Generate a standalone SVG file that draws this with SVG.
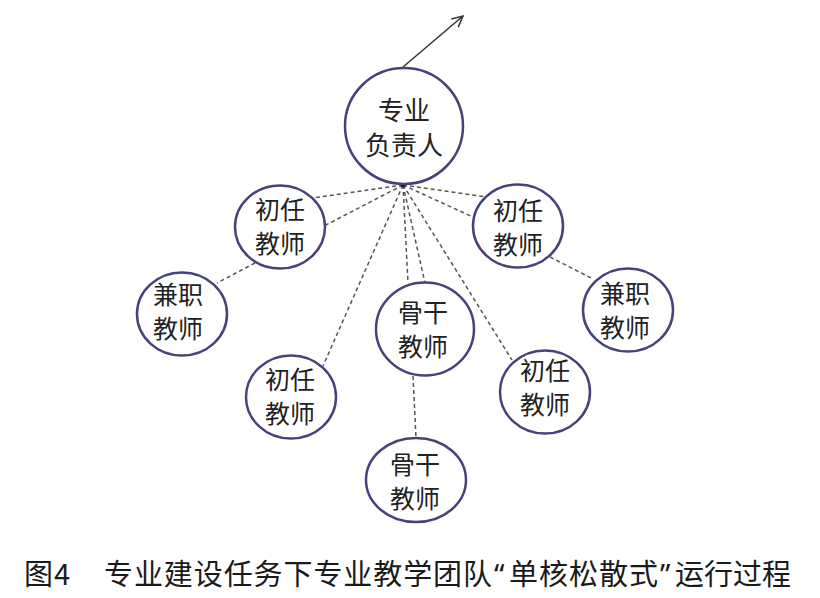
<svg xmlns="http://www.w3.org/2000/svg" width="820" height="598" viewBox="0 0 820 598">
<style>
.node ellipse{fill:#fff;stroke:#46427a;stroke-width:2.5}
.node text{font-family:"Noto Sans CJK SC","Noto Sans",sans-serif;font-size:25px;fill:#222;text-anchor:middle;dominant-baseline:central}
.dash{stroke:#555;stroke-width:1.5;stroke-dasharray:4 3;fill:none}
.caption{font-family:"Noto Sans CJK SC","Noto Sans",sans-serif;font-size:29px;font-weight:400;fill:#1a1a1a}
.q{font-family:"Noto Sans","Liberation Sans",sans-serif}
</style>
<defs>
<marker id="arr" viewBox="0 0 12 12" refX="11" refY="6" markerWidth="13" markerHeight="13" markerUnits="userSpaceOnUse" orient="auto">
<path d="M1,1 L11,6 L1,11" fill="none" stroke="#333" stroke-width="1.4"/>
</marker>
</defs>
<rect width="820" height="598" fill="#fff"/>
<g id="connectors">
<line x1="403" y1="67" x2="463" y2="16" stroke="#333" stroke-width="1.5" marker-end="url(#arr)"/>
<line class="dash" x1="403" y1="185" x2="313" y2="198"/>
<line class="dash" x1="403" y1="185" x2="324" y2="226"/>
<line class="dash" x1="403" y1="185" x2="487" y2="197"/>
<line class="dash" x1="403" y1="185" x2="475" y2="218"/>
<line class="dash" x1="403" y1="185" x2="323" y2="366"/>
<line class="dash" x1="403" y1="185" x2="408" y2="283"/>
<line class="dash" x1="403" y1="185" x2="425" y2="283"/>
<line class="dash" x1="403" y1="185" x2="512" y2="360"/>
<line class="dash" x1="255" y1="263" x2="217" y2="283"/>
<line class="dash" x1="550" y1="257" x2="593" y2="279"/>
<line class="dash" x1="413" y1="376" x2="416" y2="438"/>
<circle cx="403" cy="185" r="2.2" fill="#111"/>
</g>
<g id="leader" class="node"><ellipse cx="404" cy="126" rx="59" ry="58"/><text x="404" y="108" style="font-size:26px">专业</text><text x="404" y="143" style="font-size:26px">负责人</text></g>
<g id="new1" class="node"><ellipse cx="280" cy="227" rx="45" ry="41.5"/><text x="280" y="208">初任</text><text x="280" y="242">教师</text></g>
<g id="new2" class="node"><ellipse cx="518" cy="226" rx="45" ry="41.5"/><text x="518" y="209">初任</text><text x="518" y="243">教师</text></g>
<g id="part1" class="node"><ellipse cx="182" cy="314" rx="45" ry="41.5"/><text x="178" y="293">兼职</text><text x="178" y="327">教师</text></g>
<g id="part2" class="node"><ellipse cx="628" cy="310" rx="45" ry="41.5"/><text x="625" y="292">兼职</text><text x="625" y="326">教师</text></g>
<g id="core1" class="node"><ellipse cx="425" cy="329" rx="49" ry="46.5"/><text x="423" y="311">骨干</text><text x="423" y="345">教师</text></g>
<g id="new3" class="node"><ellipse cx="291" cy="397" rx="45" ry="41.5"/><text x="290" y="378">初任</text><text x="290" y="412">教师</text></g>
<g id="new4" class="node"><ellipse cx="545" cy="392" rx="45" ry="41.5"/><text x="545" y="369">初任</text><text x="545" y="403">教师</text></g>
<g id="core2" class="node"><ellipse cx="416" cy="480" rx="50" ry="42"/><text x="415" y="463">骨干</text><text x="415" y="497">教师</text></g>
<g id="caption">
<text class="caption" y="585"><tspan x="24">图</tspan><tspan x="54">4</tspan><tspan x="104" textLength="388" lengthAdjust="spacing">专业建设任务下专业教学团队</tspan><tspan x="494" class="q">“</tspan><tspan x="509" textLength="149" lengthAdjust="spacing">单核松散式</tspan><tspan x="660" class="q">”</tspan><tspan x="675" textLength="116" lengthAdjust="spacing">运行过程</tspan></text>
</g>
</svg>
